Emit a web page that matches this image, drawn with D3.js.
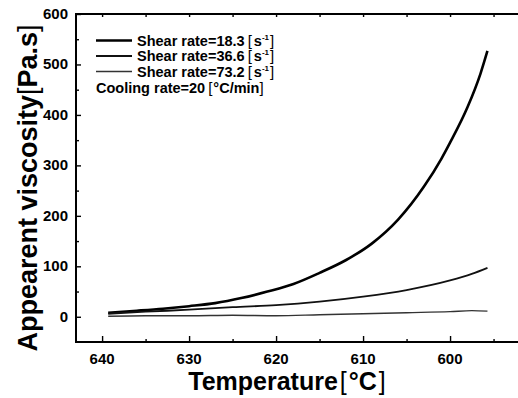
<!DOCTYPE html>
<html>
<head>
<meta charset="utf-8">
<script src="https://cdn.jsdelivr.net/npm/d3@7"></script>
<style>
  body { margin: 0; background: #fff; overflow: hidden; }
  text { font-family: "Liberation Sans", Arial, sans-serif; fill: #000; }
</style>
</head>
<body>
<div id="chart"></div>
<script>
// temperature readings (°C) and apparent viscosity (Pa.s) per shear rate
const temp1 = [639.3, 636, 633, 630, 627, 624, 621, 618, 615, 612, 609, 606, 603, 601, 600, 598, 596.5, 595.7];
const visc1 = [8, 12, 16, 21, 27, 37, 50, 65, 87, 112, 145, 192, 258, 313, 345, 415, 482, 527];

const temp2 = [639.3, 635, 630, 625, 620, 615, 610, 605, 600, 597.5, 595.7];
const visc2 = [6, 10, 14, 19, 23, 30, 40, 53, 72, 85, 97];

const temp3 = [639.3, 635, 630, 625, 620, 615, 610, 605, 600, 597.5, 595.7];
const visc3 = [1, 2, 2, 3, 2, 4, 6, 8, 10, 12, 11];

const seriesNames = ["Shear rate=18.3", "Shear rate=36.6", "Shear rate=73.2"];
const xTicks = [640, 630, 620, 610, 600];
const xMinor = [635, 625, 615, 605, 595];
const yTicks = [0, 100, 200, 300, 400, 500, 600];
const yMinor = [50, 150, 250, 350, 450, 550];

const series = [
    { name: seriesNames[0], t: temp1, v: visc1, w: 2.6, c: "#000" },
    { name: seriesNames[1], t: temp2, v: visc2, w: 1.8, c: "#111" },
    { name: seriesNames[2], t: temp3, v: visc3, w: 1.3, c: "#333" }
];

const W = 518, H = 398;
const mLeft = 76, mRight = 524, mTop = 14, mBottom = 342;

const svg = d3.select("#chart").append("svg")
    .attr("width", W).attr("height", H)
    .style("display", "block");

const x = d3.scaleLinear().domain([643, 591.5]).range([mLeft, mRight]);
const y = d3.scaleLinear().domain([-50, 600]).range([mBottom, mTop]);

// courbes
const line = d3.line().x(d => x(d[0])).y(d => y(d[1])).curve(d3.curveMonotoneX);
series.forEach(s => {
    svg.append("path")
        .datum(s.t.map((t, i) => [t, s.v[i]]))
        .attr("d", line)
        .attr("fill", "none")
        .attr("stroke", s.c)
        .attr("stroke-width", s.w)
        .attr("stroke-linejoin", "round");
});

// axes, ticks inside
const noDomain = g => g.select(".domain").remove();

svg.append("g").attr("transform", `translate(0,${mBottom})`)
    .call(d3.axisTop(x).tickValues(xTicks).tickSize(6).tickFormat("")).call(noDomain);
svg.append("g").attr("transform", `translate(0,${mBottom})`)
    .call(d3.axisTop(x).tickValues(xMinor).tickSize(3).tickFormat("")).call(noDomain);

svg.append("g").attr("transform", `translate(${mLeft},0)`)
    .call(d3.axisRight(y).tickValues(yTicks).tickSize(5).tickFormat("")).call(noDomain);
svg.append("g").attr("transform", `translate(${mLeft},0)`)
    .call(d3.axisRight(y).tickValues(yMinor).tickSize(3).tickFormat("")).call(noDomain);

// top mirror ticks
svg.append("g").attr("transform", `translate(0,${mTop})`)
    .call(d3.axisBottom(x).tickValues(xTicks.concat(xMinor)).tickSize(3).tickFormat("")).call(noDomain);

svg.selectAll(".tick line").attr("stroke", "#000").attr("stroke-width", 1.4);

// frame
svg.append("rect")
    .attr("x", mLeft).attr("y", mTop)
    .attr("width", mRight - mLeft).attr("height", mBottom - mTop)
    .attr("fill", "none").attr("stroke", "#000").attr("stroke-width", 2);

// tick labels
svg.selectAll(".xl").data(xTicks).enter().append("text")
    .attr("x", d => x(d)).attr("y", 364)
    .attr("text-anchor", "middle")
    .attr("font-size", 15).attr("font-weight", "bold")
    .text(d => d);

svg.selectAll(".yl").data(yTicks).enter().append("text")
    .attr("x", 68).attr("y", d => y(d) + 5)
    .attr("text-anchor", "end")
    .attr("font-size", 15).attr("font-weight", "bold")
    .text(d => d);

// axis titles
const xt = svg.append("text")
    .attr("x", 287).attr("y", 390)
    .attr("text-anchor", "middle")
    .attr("font-size", 25).attr("font-weight", "bold");
xt.append("tspan").text("Temperature");
xt.append("tspan").attr("font-weight", "normal").attr("dx", 2).text("[");
xt.append("tspan").attr("dx", 2).text("°C");
xt.append("tspan").attr("font-weight", "normal").attr("dx", 2).text("]");

const yt = svg.append("text")
    .attr("transform", "translate(37,188) rotate(-90)")
    .attr("text-anchor", "middle")
    .attr("font-size", 27).attr("font-weight", "bold");
yt.append("tspan").text("Appearent viscosity");
yt.append("tspan").attr("font-weight", "normal").text("[");
yt.append("tspan").text("Pa.s");
yt.append("tspan").attr("font-weight", "normal").text("]");

// legend
const legY = [40.5, 56, 71.5];
series.forEach((s, i) => {
    svg.append("line")
        .attr("x1", 96).attr("x2", 132)
        .attr("y1", legY[i]).attr("y2", legY[i])
        .attr("stroke", s.c).attr("stroke-width", s.w);
    const t = svg.append("text")
        .attr("x", 137).attr("y", legY[i] + 5)
        .attr("font-size", 14.5).attr("font-weight", "bold");
    t.append("tspan").text(s.name);
    t.append("tspan").attr("font-weight", "normal").attr("font-size", 15).attr("dx", 3).text("[");
    t.append("tspan").attr("dx", 2).text("s");
    t.append("tspan").attr("font-size", 8).attr("dy", -6).text("-1");
    t.append("tspan").attr("font-weight", "normal").attr("font-size", 15).attr("dy", 6).attr("dx", 1).text("]");
});
const ct = svg.append("text")
    .attr("x", 96).attr("y", 93)
    .attr("font-size", 14.5).attr("font-weight", "bold");
ct.append("tspan").text("Cooling rate=20");
ct.append("tspan").attr("font-weight", "normal").attr("font-size", 15).attr("dx", 3).text("[");
ct.append("tspan").attr("dx", 1).text("°C/min");
ct.append("tspan").attr("font-weight", "normal").attr("font-size", 15).text("]");
</script>
</body>
</html>
